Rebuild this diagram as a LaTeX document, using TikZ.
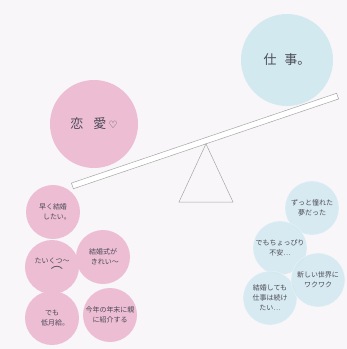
\documentclass[tikz,border=0pt]{standalone}
\usepackage{fontspec}
\newfontfamily\jp{Noto Sans CJK JP}
\newfontfamily\dv{DejaVu Sans}
\definecolor{pinkc}{HTML}{EDBDD4}
\definecolor{bluec}{HTML}{D3E9F0}
\definecolor{bgc}{HTML}{F8F6F8}
\definecolor{inkc}{HTML}{4A4A55}
\tikzset{
  big/.style={circle, minimum size=88pt, inner sep=0pt, text=inkc, font=\jp\fontsize{13}{15}\selectfont},
  small/.style={circle, minimum size=54pt, inner sep=0pt, text=inkc, align=center, font=\jp\fontsize{7}{10}\selectfont},
  pinkdot/.style={fill=pinkc},
  bluedot/.style={fill=bluec, fill opacity=0.85, text opacity=1, draw=white, draw opacity=0.5},
  beamline/.style={draw=gray!70, line width=0.5pt, fill=white},
}
\begin{document}
\begin{tikzpicture}[x=1pt,y=-1pt]
\fill[bgc] (0,0) rectangle (347,349);
\useasboundingbox (0,0) rectangle (347,349);
% big circles
\node[big, pinkdot] (love) at (94,124) {恋\hspace{10pt}愛\,{\dv\fontsize{10}{10}\selectfont ♡}};
\node[big, fill=bluec, minimum size=92pt] (work) at (287,60) {仕\hspace{8pt}事。};
% seesaw beam
\begin{scope}[shift={(205,141)}, rotate=18.7]
  \draw[beamline] (-140,-3) rectangle (140,3);
  \coordinate (pivot) at (0,3);
\end{scope}
% fulcrum
\coordinate (bl) at (179,202);
\coordinate (br) at (233,202);
\draw[gray!70, line width=0.5pt] (pivot) -- (bl) -- (br) -- cycle;
% pink small circles
\node[small, pinkdot] (p1) at (53,212) {早く結婚\\\hspace{8pt}したい。};
\node[small, pinkdot] (p2) at (52,267) {たいくつ〜\\[2pt]\hspace{10pt}{\fontsize{12}{12}\selectfont ⌒}};
\node[small, pinkdot] (p3) at (103,257) {結婚式が\\\hspace{4pt}きれい〜};
\node[small, pinkdot] (p4) at (52,318) {でも\\\hspace{6pt}低月給。};
\node[small, pinkdot] (p5) at (110,315) {今年の年末に親\\に紹介する};
% blue small circles
\node[small, bluedot] (b1) at (312,208) {ずっと憧れた\\夢だった};
\node[small, bluedot] (b2) at (280,248) {でもちょっぴり\\不安…};
\node[small, bluedot] (b4) at (270,298) {結婚しても\\仕事は続け\\たい…};
\node[small, bluedot] (b3) at (318,280) {新しい世界に\\ワクワク};
\end{tikzpicture}
\end{document}
